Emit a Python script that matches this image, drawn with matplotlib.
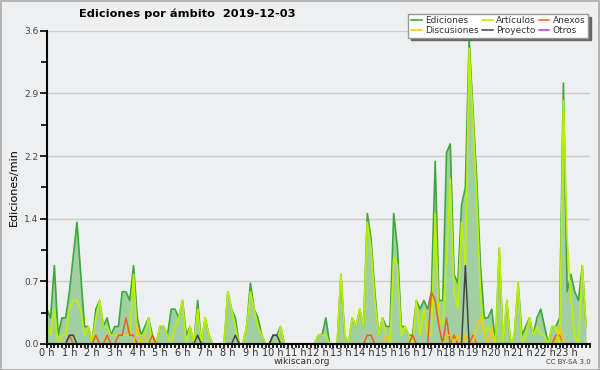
import numpy as np
import matplotlib
matplotlib.use("Agg")
import matplotlib.pyplot as plt
from matplotlib.ticker import MultipleLocator, FixedLocator, FormatStrFormatter

# edits per minute, one value every 10 minutes (6 per hour)
ediciones = [
    .4, .3, .9, .1, .3, .3,      # 0 h
    .6, 1.0, 1.4, .8, .2, .2,    # 1 h
    0, .4, .5, .2, .3, .1,       # 2 h
    .2, .2, .6, .6, .5, .9,      # 3 h
    .3, .1, .2, .3, .1, 0,       # 4 h
    .2, .2, .1, .4, .4, .3,      # 5 h
    .5, .1, .2, 0, .5, 0,        # 6 h
    .3, .1, 0, 0, 0, 0,          # 7 h
    .6, .4, .3, 0, 0, .2,        # 8 h
    .7, .4, .3, .1, 0, 0,        # 9 h
    .1, .1, .2, 0, 0, 0,         # 10 h
    0, 0, 0, 0, 0, 0,            # 11 h
    .1, .1, .3, 0, 0, 0,         # 12 h
    .8, .1, 0, .3, .2, .4,       # 13 h
    .2, 1.5, 1.2, .6, .1, .3,    # 14 h
    .2, .2, 1.5, 1.1, .2, .2,    # 15 h
    .1, .1, .5, .4, .5, .4,      # 16 h
    .6, 2.1, .5, .5, 2.2, 2.3,   # 17 h
    .8, .7, 1.6, 1.8, 3.5, 2.7,  # 18 h
    1.9, .9, .3, .3, .4, 0,      # 19 h
    1.1, 0, .5, 0, .1, .7,       # 20 h
    .1, .2, .3, .1, .3, .4,      # 21 h
    .2, 0, .2, .2, .3, 3.0,      # 22 h
    .6, .8, .6, .5, .9, .2,      # 23 h
]
articulos = [
    .2, .1, .4, 0, .1, .1,
    .4, .5, .5, .4, .1, .2,
    0, .3, .5, .2, .2, .1,
    .1, .1, .1, .1, .1, .8,
    .1, .1, .1, .3, 0, 0,
    .2, .2, .1, 0, .2, .3,
    .5, 0, .2, 0, .4, 0,
    .3, .1, 0, 0, 0, 0,
    .6, .4, .2, 0, 0, .2,
    .6, .4, .2, .1, 0, 0,
    0, 0, .2, 0, 0, 0,
    0, 0, 0, 0, 0, 0,
    .1, .1, .1, 0, 0, 0,
    .8, .1, 0, .3, .2, .4,
    .2, 1.4, 1.1, .5, .1, .3,
    .1, 0, 1.0, .9, .1, .2,
    .1, 0, .5, .1, .4, .1,
    .1, 1.5, .3, .2, 1.0, 1.9,
    .6, .4, 1.4, .9, 3.4, 2.6,
    1.7, .6, .1, .2, .1, 0,
    1.1, 0, .5, 0, .1, .7,
    0, .1, .3, .1, .2, .1,
    .1, 0, .2, .2, 0, 2.8,
    1.2, .5, .1, 0, .9, .2,
]
discusiones = [
    0, 0, 0, 0, 0, 0,
    0, 0, 0, 0, 0, 0,
    0, 0, 0, 0, 0, 0,
    0, 0, 0, 0, 0, 0,
    .2, 0, .1, 0, 0, 0,
    0, 0, 0, 0, 0, 0,
    0, 0, 0, 0, 0, 0,
    0, 0, 0, 0, 0, 0,
    0, 0, 0, 0, 0, 0,
    0, 0, 0, 0, 0, 0,
    0, 0, 0, 0, 0, 0,
    0, 0, 0, 0, 0, 0,
    0, 0, 0, 0, 0, 0,
    0, 0, 0, 0, 0, 0,
    0, 0, 0, 0, 0, 0,
    .1, 0, 0, 0, 0, 0,
    0, 0, 0, 0, 0, 0,
    0, 0, 0, 0, .1, .1,
    0, .1, 0, .1, 0, 0,
    .2, .3, .1, 0, .2, 0,
    0, 0, 0, 0, 0, 0,
    0, 0, 0, 0, 0, 0,
    0, 0, 0, 0, .2, 0,
    0, 0, 0, 0, 0, 0,
]
anexos = [
    0, 0, 0, 0, 0, 0,
    .1, 0, 0, 0, 0, 0,
    0, .1, 0, 0, .1, 0,
    0, .1, .1, .3, .1, .1,
    0, 0, 0, 0, .1, 0,
    0, 0, 0, 0, 0, 0,
    0, 0, 0, 0, 0, 0,
    0, 0, 0, 0, 0, 0,
    0, 0, 0, 0, 0, 0,
    0, 0, 0, 0, 0, 0,
    0, 0, 0, 0, 0, 0,
    0, 0, 0, 0, 0, 0,
    0, 0, 0, 0, 0, 0,
    0, 0, 0, 0, 0, 0,
    0, .1, .1, 0, 0, 0,
    0, 0, 0, 0, 0, 0,
    0, .1, 0, 0, 0, 0,
    .6, .5, .2, 0, .3, 0,
    .1, 0, 0, 0, 0, .1,
    0, 0, 0, 0, 0, 0,
    0, 0, 0, 0, 0, 0,
    0, 0, 0, 0, 0, 0,
    0, 0, 0, .1, .1, 0,
    0, 0, 0, 0, 0, 0,
]
proyecto = [
    0, 0, 0, 0, 0, 0,
    .1, .1, 0, 0, 0, 0,
    0, 0, 0, 0, 0, 0,
    0, 0, 0, 0, 0, 0,
    0, 0, 0, 0, 0, 0,
    0, 0, 0, 0, 0, 0,
    0, 0, 0, 0, .1, 0,
    0, 0, 0, 0, 0, 0,
    0, 0, .1, 0, 0, 0,
    0, 0, 0, 0, 0, 0,
    .1, .1, 0, 0, 0, 0,
    0, 0, 0, 0, 0, 0,
    0, 0, 0, 0, 0, 0,
    0, 0, 0, 0, 0, 0,
    0, 0, 0, 0, 0, 0,
    0, 0, 0, 0, 0, 0,
    0, 0, 0, 0, 0, 0,
    0, 0, 0, 0, 0, 0,
    0, 0, 0, .9, 0, 0,
    0, 0, 0, 0, 0, 0,
    0, 0, 0, 0, 0, 0,
    0, 0, 0, 0, 0, 0,
    0, 0, 0, 0, 0, 0,
    0, 0, 0, 0, 0, 0,
]
otros = [0] * 144

hour_labels = ["%d h" % h for h in range(24)]
y_ticks = [0, 0.72, 1.44, 2.16, 2.88, 3.6]

bg = "#eeeff0"
t = np.arange(144) / 6.0

fig = plt.figure(figsize=(6, 3.7), dpi=100, facecolor=bg)
ax = fig.add_axes([0.078, 0.0705, 0.905, 0.846], facecolor=bg)

ax.fill_between(t, ediciones, 0, color="#a2cfa2", lw=0, zorder=1)
ax.plot(t, ediciones, color="#3aa83a", lw=1.2, label="Ediciones", zorder=2)
ax.plot(t, articulos, color="#bdf000", lw=1.2, label="Artículos", zorder=2.1)
ax.plot(t, anexos, color="#f25c1c", lw=1.1, label="Anexos", zorder=2.2)
ax.plot(t, discusiones, color="#ffc600", lw=1.1, label="Discusiones", zorder=2.2)
ax.plot(t, proyecto, color="#444444", lw=1.1, label="Proyecto", zorder=2.3)
ax.plot(t, otros, color="#9b3cf0", lw=1.1, label="Otros", zorder=2.0)

ax.set_xlim(0, 24)
ax.set_ylim(0, 3.6)

ax.yaxis.set_major_locator(FixedLocator(y_ticks))
ax.yaxis.set_major_formatter(FormatStrFormatter("%.1f"))
ax.yaxis.set_minor_locator(MultipleLocator(0.36))
ax.set_xticks(range(24))
ax.set_xticklabels(hour_labels)
ax.xaxis.set_minor_locator(MultipleLocator(1 / 6))

ax.tick_params(axis="y", which="major", length=5, width=1.2, labelsize=6.5,
               labelcolor="#444444", pad=1)
ax.tick_params(axis="y", which="minor", length=4, width=1.2)
ax.tick_params(axis="x", which="major", length=3, width=1.2, labelsize=7,
               labelcolor="#333333", pad=0)
ax.tick_params(axis="x", which="minor", length=3, width=1.2)

for side in ("top", "right"):
    ax.spines[side].set_visible(False)
for side in ("left", "bottom"):
    ax.spines[side].set_linewidth(1.5)
    ax.spines[side].set_zorder(5)

ax.grid(axis="y", color="#cccccc", lw=1)
ax.set_axisbelow(True)

ax.set_ylabel("Ediciones/min", fontsize=8, labelpad=4)

fig.text(0.3125, 0.962, "Ediciones por ámbito  2019-12-03", ha="center", va="center",
         fontsize=8.2, fontweight="bold")
fig.text(0.503, 0.022, "wikiscan.org", ha="center", va="center", fontsize=6.5,
         color="#333333")
fig.text(0.947, 0.021, "CC BY-SA 3.0", ha="center", va="center", fontsize=5,
         color="#444444")

handles, labels = ax.get_legend_handles_labels()
order = [0, 3, 1, 4, 2, 5]
leg = fig.legend([handles[i] for i in order], [labels[i] for i in order],
                 ncol=3, loc="upper right", bbox_to_anchor=(0.988, 0.975),
                 fontsize=6.5, handlelength=1.2, handletextpad=0.4,
                 columnspacing=0.3, labelspacing=0.05, borderpad=0.3,
                 fancybox=False, shadow={"color": "#666666", "alpha": 1},
                 framealpha=1, edgecolor="#999999")
leg.get_frame().set_linewidth(1)
for txt in leg.get_texts():
    txt.set_color("#333333")

# outer border
fig.patches.append(plt.Rectangle((0.001, 0.001), 0.998, 0.997, transform=fig.transFigure,
                                 fill=False, edgecolor="#aaaaaa", lw=1.2))

fig.savefig("out.png", dpi=100, facecolor=bg)
